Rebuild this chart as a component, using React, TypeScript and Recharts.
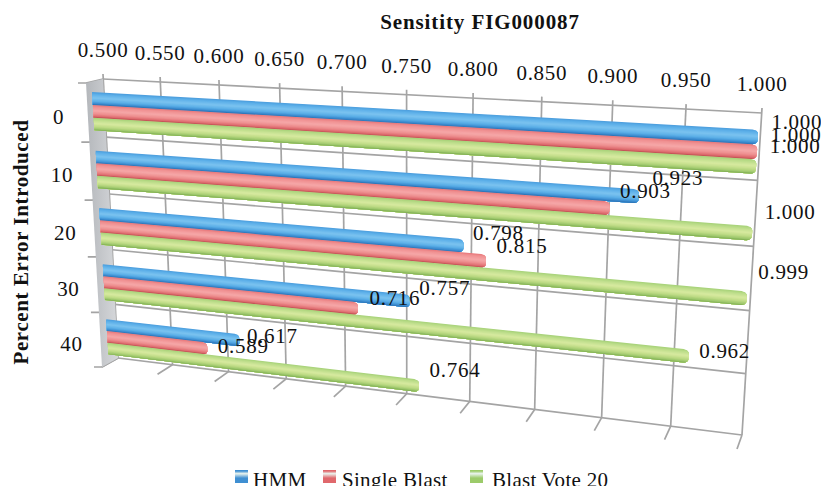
import React from 'react';
import { BarChart, Bar, XAxis, YAxis, CartesianGrid, Legend, LabelList } from 'recharts';

// Chart values
const categories = ['0', '10', '20', '30', '40'];
const hmm = [1.0, 0.923, 0.798, 0.757, 0.617];
const singleBlast = [1.0, 0.903, 0.815, 0.716, 0.589];
const blastVote = [1.0, 1.0, 0.999, 0.962, 0.764];
const valueTicks = [0.5, 0.55, 0.6, 0.65, 0.7, 0.75, 0.8, 0.85, 0.9, 0.95, 1.0];
const seriesNames = ['HMM', 'Single Blast', 'Blast Vote 20'];

const rows = categories.map((name, i) => ({
  name,
  hmm: hmm[i],
  single: singleBlast[i],
  vote: blastVote[i],
}));

// Logical plot rectangle handed to Recharts; everything is then projected
// onto the tilted 3D box below.
const PLOT = { left: 100, top: 80, width: 600, height: 300 };
const SIZE = { width: 821, height: 486 };
const AXIS_SIZE = 20;

type Pt = [number, number];
const serif = '"Liberation Serif", serif';

function homography(p0: Pt, p1: Pt, p2: Pt, p3: Pt) {
  const sx = p0[0] - p1[0] + p2[0] - p3[0];
  const sy = p0[1] - p1[1] + p2[1] - p3[1];
  const dx1 = p1[0] - p2[0];
  const dx2 = p3[0] - p2[0];
  const dy1 = p1[1] - p2[1];
  const dy2 = p3[1] - p2[1];
  const den = dx1 * dy2 - dx2 * dy1;
  const g = (sx * dy2 - dx2 * sy) / den;
  const h = (dx1 * sy - sx * dy1) / den;
  const a = p1[0] - p0[0] + g * p1[0];
  const b = p3[0] - p0[0] + h * p3[0];
  const d = p1[1] - p0[1] + g * p1[1];
  const e = p3[1] - p0[1] + h * p3[1];
  return (u: number, v: number): Pt => {
    const w = g * u + h * v + 1;
    return [(a * u + b * v + p0[0]) / w, (d * u + e * v + p0[1]) / w];
  };
}

// Three planes of the box: back wall, plane of the bars, front edge
const back = homography([103, 79], [762, 113], [742, 435], [118, 358]);
const mid = homography([91.4, 82], [759, 118], [739.5, 442], [109, 364]);
const front = homography([86, 83], [757, 122], [737, 449], [102, 367]);

const toU = (x: number) => (x - PLOT.left) / PLOT.width;
const toV = (y: number) => (y - PLOT.top) / PLOT.height;
const poly = (pts: Pt[]) => pts.map((p) => `${p[0].toFixed(2)},${p[1].toFixed(2)}`).join(' ');

// Bar colour ramps, top edge to bottom edge of the rounded tube
type Stop = [number, string];
const blueRamp: Stop[] = [[0, '#4b9bdb'], [0.15, '#5aaee8'], [0.45, '#7cc3f0'], [0.7, '#5cb0e8'], [0.9, '#3a8bcf'], [1, '#2a6fb0']];
const redRamp: Stop[] = [[0, '#e77377'], [0.15, '#ef8f90'], [0.45, '#f6a8a8'], [0.7, '#ee8e8f'], [0.9, '#dd6a6d'], [1, '#b94a4e']];
const greenRamp: Stop[] = [[0, '#a5d077'], [0.15, '#b9dc88'], [0.45, '#d8eaa0'], [0.7, '#bfdc86'], [0.9, '#9cc76c'], [1, '#7aa84e']];

function rampColor(ramp: Stop[], t: number) {
  for (let i = 1; i < ramp.length; i++) {
    if (t <= ramp[i][0]) {
      const [t0, c0] = ramp[i - 1];
      const [t1, c1] = ramp[i];
      const f = (t - t0) / (t1 - t0);
      const ch = (c: string, o: number) => parseInt(c.slice(o, o + 2), 16);
      const mix = (o: number) => Math.round(ch(c0, o) + (ch(c1, o) - ch(c0, o)) * f);
      return `rgb(${mix(1)},${mix(3)},${mix(5)})`;
    }
  }
  return ramp[ramp.length - 1][1];
}

const STRIPS = 16;
const CAP_PX = 4.5;

function tubeShape(ramp: Stop[]) {
  return function TubeBar(props: any) {
    const { x, y, width, height } = props;
    const u0 = toU(x);
    const u1 = toU(x + width);
    const v0 = toV(y);
    const v1 = toV(y + height);
    const cap = CAP_PX / 630;
    const endAt = (t: number): Pt => {
      const s = Math.max(0, (Math.abs(2 * t - 1) - 0.35) / 0.65);
      const inset = cap * (1 - Math.sqrt(Math.max(0, 1 - s * s)));
      return mid(u1 - inset, v0 + (v1 - v0) * t);
    };
    const strips = [];
    for (let k = 0; k < STRIPS; k++) {
      const tk = k / STRIPS;
      const pts: Pt[] = [mid(u0, v0 + (v1 - v0) * tk)];
      for (let j = 0; j <= 12; j++) pts.push(endAt(tk + ((1 - tk) * j) / 12));
      pts.push(mid(u0, v1));
      strips.push(<polygon key={k} points={poly(pts)} fill={rampColor(ramp, (k + 0.5) / STRIPS)} />);
    }
    return <g>{strips}</g>;
  };
}

// Offset of each value label from the end of its bar, by category then series
const labelNudge: Pt[][] = [
  [[39, -15], [39, -17], [39, -21]],
  [[39, -18], [36, -17], [38, -21]],
  [[35, -13], [36, -15], [37, -27]],
  [[35, -13], [37, -11], [36, -5]],
  [[33, -4], [36, -3], [36, -16]],
];

function valueLabel(series: number) {
  return function ValueLabel(props: any) {
    const { x, y, width, height, value, index } = props;
    const end = mid(toU(x + width), toV(y + height / 2));
    const [dx, dy] = labelNudge[index][series];
    return (
      <text x={end[0] + dx} y={end[1] + dy} textAnchor="middle" dominantBaseline="central"
        fontFamily={serif} fontSize={21} letterSpacing={0.7} fill="#111">
        {Number(value).toFixed(3)}
      </text>
    );
  };
}

const gridStroke = '#a4a4a4';

function VerticalGridLine(props: any) {
  const u = toU(props.x1);
  const top = back(u, 0);
  const bottom = back(u, 1);
  const tick = front(u, 1);
  return (
    <g key={props.key} stroke={gridStroke} strokeWidth={1.7} fill="none">
      <line x1={top[0]} y1={top[1] - 5} x2={bottom[0]} y2={bottom[1]} />
      <line x1={bottom[0]} y1={bottom[1]} x2={tick[0]} y2={tick[1]} />
    </g>
  );
}

function HorizontalGridLine(props: any) {
  const v = toV(props.y1);
  const a = back(0, v);
  const b = back(1, v);
  const f = front(0, v);
  return (
    <g key={props.key} stroke={gridStroke} strokeWidth={1.7} fill="none">
      <line x1={a[0]} y1={a[1]} x2={b[0]} y2={b[1]} />
      <polyline points={poly([a, f, [f[0] - 8, f[1]]])} />
    </g>
  );
}

function ValueTick(props: any) {
  const { x, payload } = props;
  const p = back(toU(x), 0);
  return (
    <text x={p[0]} y={p[1] - 29} textAnchor="middle" dominantBaseline="central"
      fontFamily={serif} fontSize={21} letterSpacing={0.7} fill="#111">
      {Number(payload.value).toFixed(3)}
    </text>
  );
}

function CategoryTick(props: any) {
  const { y, payload } = props;
  const p = front(0, toV(y));
  return (
    <text x={p[0] - 29} y={p[1] + 4} textAnchor="middle" dominantBaseline="central"
      fontFamily={serif} fontSize={21} letterSpacing={0.7} fill="#111">
      {payload.value}
    </text>
  );
}

// Grey side wall and the two chart titles
function Frame() {
  const wall = [back(0, 0), back(0, 1), front(0, 1), front(0, 0)];
  return (
    <g>
      <defs>
        <linearGradient id="sideWall" x1="0" x2="1" y1="0" y2="0">
          <stop offset="0" stopColor="#b4b7bb" />
          <stop offset="1" stopColor="#d6d8db" />
        </linearGradient>
      </defs>
      <polygon points={poly(wall)} fill="url(#sideWall)" />
      <text x={480} y={22} textAnchor="middle" dominantBaseline="central"
        fontFamily={serif} fontWeight="bold" fontSize={21} letterSpacing={0.9} fill="#111">
        Sensitity FIG000087
      </text>
      <text transform="translate(21,242) rotate(-90)" textAnchor="middle" dominantBaseline="central"
        fontFamily={serif} fontWeight="bold" fontSize={21} letterSpacing={0.6} fill="#111">
        Percent Error Introduced
      </text>
    </g>
  );
}

const legendX = [235, 323, 470];
const legendTextX = [253, 342, 492];

function LegendRow(props: any) {
  const items = props.payload || [];
  return (
    <div style={{ position: 'relative', height: 0 }}>
      {items.map((item: any) => {
        const i = seriesNames.indexOf(item.value);
        return (
          <React.Fragment key={item.value}>
            <div style={{
              position: 'absolute', left: legendX[i], top: 470, width: 13, height: 13,
              background: `linear-gradient(to bottom, ${item.color} 8%, #eaf4ee 28%, ${item.color} 62%, ${item.color})`,
            }} />
            <span style={{
              position: 'absolute', left: legendTextX[i], top: 468, lineHeight: '24px', whiteSpace: 'nowrap',
              fontFamily: serif, fontSize: 21, letterSpacing: 0.3, color: '#111',
            }}>{item.value}</span>
          </React.Fragment>
        );
      })}
    </div>
  );
}

export default function App() {
  return (
    <div style={{ position: 'absolute', left: 0, top: 0, width: SIZE.width, height: SIZE.height, overflow: 'hidden', background: '#fff' }}>
      <BarChart
        width={SIZE.width}
        height={SIZE.height}
        data={rows}
        layout="vertical"
        barCategoryGap="17%"
        barGap={0}
        margin={{
          left: PLOT.left - AXIS_SIZE,
          top: PLOT.top - AXIS_SIZE,
          right: SIZE.width - PLOT.left - PLOT.width,
          bottom: SIZE.height - PLOT.top - PLOT.height,
        }}
      >
        <Frame />
        <CartesianGrid
          vertical={VerticalGridLine}
          horizontal={HorizontalGridLine}
          horizontalPoints={categories.concat('').map((_, i) => PLOT.top + (PLOT.height * i) / categories.length)}
        />
        <XAxis type="number" orientation="top" domain={[0.5, 1]} ticks={valueTicks} height={AXIS_SIZE}
          axisLine={false} tickLine={false} tick={ValueTick} interval={0} />
        <YAxis type="category" dataKey="name" width={AXIS_SIZE} axisLine={false} tickLine={false}
          tick={CategoryTick} interval={0} />
        <Legend content={LegendRow} wrapperStyle={{ left: 0, top: 0, width: SIZE.width, height: 0 }} />
        <Bar dataKey="hmm" name={seriesNames[0]} fill="#3f8fd2" shape={tubeShape(blueRamp)} isAnimationActive={false}>
          <LabelList content={valueLabel(0)} />
        </Bar>
        <Bar dataKey="single" name={seriesNames[1]} fill="#e0686c" shape={tubeShape(redRamp)} isAnimationActive={false}>
          <LabelList content={valueLabel(1)} />
        </Bar>
        <Bar dataKey="vote" name={seriesNames[2]} fill="#9ccb6a" shape={tubeShape(greenRamp)} isAnimationActive={false}>
          <LabelList content={valueLabel(2)} />
        </Bar>
      </BarChart>
    </div>
  );
}
